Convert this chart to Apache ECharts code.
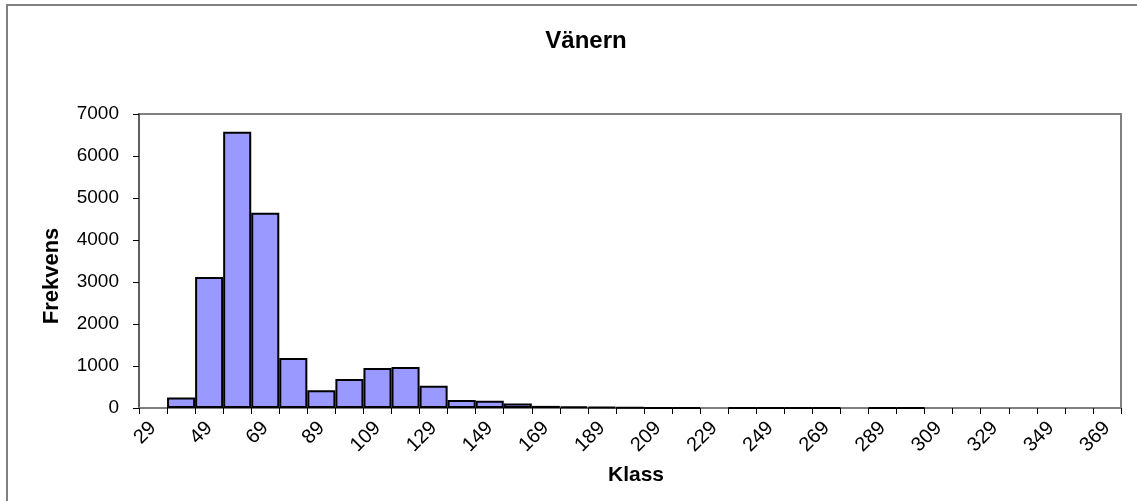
<!DOCTYPE html>
<html>
<head>
<meta charset="utf-8">
<script src="https://cdn.jsdelivr.net/npm/echarts@6/dist/echarts.min.js"></script>
<style>
  html, body { margin: 0; padding: 0; background: #fff; }
  #chart { width: 1137px; height: 501px; }
</style>
</head>
<body>
<div id="chart"></div>
<script>
// klass (class lower bounds), frekvens per klass
const klasser = ['29', '39', '49', '59', '69', '79', '89', '99', '109', '119', '129', '139', '149', '159',
    '169', '179', '189', '199', '209', '219', '229', '239', '249', '259', '269', '279', '289', '299',
    '309', '319', '329', '339', '349', '359', '369']
const frekvens = [0, 250, 3120, 6580, 4650, 1190, 420, 690, 950, 975, 530, 190, 170, 105,
    50, 30, 25, 6, 5, 5, 0, 4, 4, 4, 4, 0, 3, 3,
    0, 0, 0, 0, 0, 0, 0]
const yTicks = [0, 1000, 2000, 3000, 4000, 5000, 6000, 7000]

const font = '"Liberation Sans", Arial, sans-serif'
const chart = echarts.init(document.getElementById('chart'))

chart.setOption({
    animation: false,
    backgroundColor: '#fff',
    graphic: [
        {
            type: 'rect',
            shape: { x: 7, y: 5, width: 1200, height: 600 },
            style: { fill: 'none', stroke: '#808080', lineWidth: 2 },
            silent: true
        },
        {
            type: 'text',
            x: 586,
            y: 41,
            style: {
                text: 'Vänern',
                font: 'bold 24px ' + font,
                fill: '#000',
                textAlign: 'center',
                textVerticalAlign: 'middle'
            }
        }
    ],
    grid: {
        left: 139, right: 16, top: 114, bottom: 93,
        show: true,
        borderColor: '#808080',
        borderWidth: 2
    },
    xAxis: {
        type: 'category',
        data: klasser,
        name: 'Klass',
        nameLocation: 'middle',
        nameGap: 57,
        nameTextStyle: { fontFamily: font, fontWeight: 'bold', fontSize: 21, color: '#000', padding: [0, 0, 0, 12] },
        axisLine: { lineStyle: { color: '#808080', width: 2 } },
        axisTick: { show: true, interval: 0, length: 6, lineStyle: { color: '#000', width: 1 } },
        axisLabel: {
            interval: 1,
            rotate: 45,
            margin: 17,
            fontFamily: font,
            fontSize: 20,
            color: '#000'
        }
    },
    yAxis: {
        type: 'value',
        min: yTicks[0],
        max: yTicks[yTicks.length - 1],
        interval: 1000,
        name: 'Frekvens',
        nameLocation: 'middle',
        nameGap: 76,
        nameTextStyle: { fontFamily: font, fontWeight: 'bold', fontSize: 22, color: '#000', padding: [0, 30, 0, 0] },
        axisLine: { show: true, lineStyle: { color: '#606060', width: 2 } },
        axisTick: { show: true, length: 6, lineStyle: { color: '#000', width: 1 } },
        splitLine: { show: false },
        axisLabel: {
            margin: 20,
            fontFamily: font,
            fontSize: 19,
            color: '#000',
            formatter: v => String(v)
        }
    },
    series: [
        {
            type: 'bar',
            data: frekvens.map(v => (v === 0 ? null : v)),
            barCategoryGap: 0,
            itemStyle: { color: '#9999ff', borderColor: '#000', borderWidth: 2 }
        }
    ]
})
</script>
</body>
</html>
